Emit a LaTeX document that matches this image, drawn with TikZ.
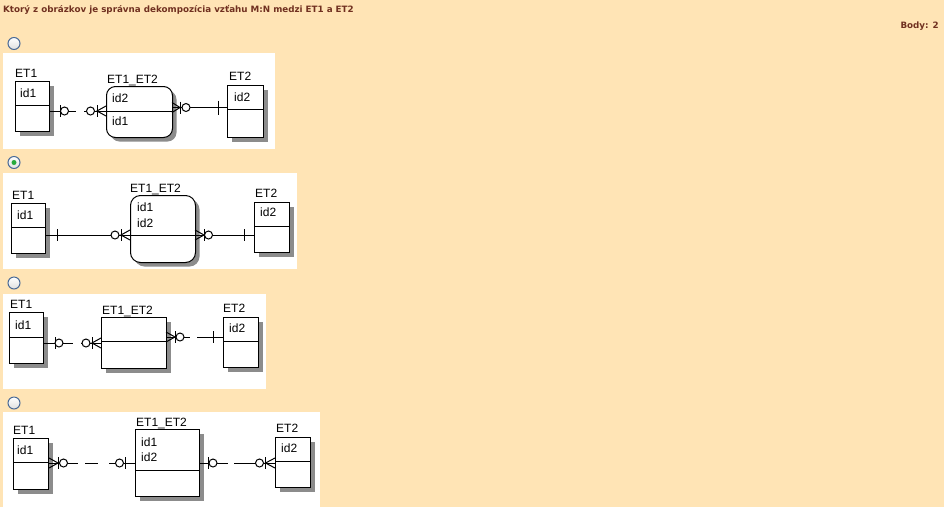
\documentclass[tikz,border=0pt]{standalone}
\usepackage{fontspec}
\setmainfont{Liberation Sans}
\newfontfamily\titlefont{DejaVu Sans}
\usetikzlibrary{shadows}
\definecolor{bgpeach}{RGB}{255,228,181}
\definecolor{titlebrown}{RGB}{112,48,32}
\definecolor{radioedge}{RGB}{74,106,150}
\definecolor{radiodot}{RGB}{40,170,60}
\definecolor{shadowgray}{RGB}{140,140,140}
\tikzset{
  ent/.style={draw=black, fill=white, line width=1pt, anchor=north west, inner sep=0pt,
     drop shadow={shadow xshift=4pt, shadow yshift=-4pt, fill=shadowgray, opacity=1}},
  lbl/.style={anchor=base west, inner sep=0pt, font=\fontsize{12}{14}\selectfont},
  conn/.style={line width=1pt},
  sym/.style={line width=1pt},
  radio/.style={circle, draw=radioedge, line width=1pt, top color=white, bottom color=gray!25, minimum size=12pt, inner sep=0pt},
  panel/.style={fill=white, draw=none},
  ttl/.style={inner sep=0pt, text=titlebrown, font=\titlefont\bfseries\fontsize{8.75}{10}\selectfont},
}
\newcommand\ERbar[3]{\draw[sym] (#1,#2-#3) -- (#1,#2+#3);}
\newcommand\ERcirc[2]{\draw[sym, fill=white] (#1,#2) circle[radius=4];}
\newcommand\ERcrow[3]{\draw[sym] (#2,#3-5) -- (#1,#3) -- (#2,#3+5);}
\begin{document}
\begin{tikzpicture}[x=1pt,y=-1pt]
\useasboundingbox (0,0) rectangle (944,507);
\fill[bgpeach] (0,0) rectangle (944,507);
% header
\node[ttl, anchor=base west] (title) at (3,12) {Ktorý z obrázkov je správna dekompozícia vzťahu M:N medzi ET1 a ET2};
\node[ttl, anchor=base east] (body) at (939,28.3) {Body: 2};
% radios
\node[radio] (r1) at (14,43.5) {};
\node[radio] (r2) at (14,162.5) {};
\fill[radiodot] (r2.center) circle[radius=2.5];
\node[radio] (r3) at (14,283) {};
\node[radio] (r4) at (14,403) {};
% panels
\fill[panel] (3,53) rectangle (275,149);
\fill[panel] (3,173) rectangle (297,269);
\fill[panel] (3,294) rectangle (266,389);
\fill[panel] (3,412) rectangle (320,507);

% ---------- diagram 1 ----------
\node[ent, minimum width=34pt, minimum height=50pt] (A1) at (15,81) {};
\node[ent, rounded corners=9pt, minimum width=66pt, minimum height=51pt] (B1) at (106,86) {};
\node[ent, minimum width=36pt, minimum height=52pt] (C1) at (227,85) {};
\coordinate (a1d) at (0,105.5);
\coordinate (b1d) at (0,111);
\coordinate (c1d) at (0,109);
\coordinate (k1r) at (0,107.5);
\draw[conn] (A1.west |- a1d) -- (A1.east |- a1d);
\draw[conn] (B1.west |- b1d) -- (B1.east |- b1d);
\draw[conn] (C1.west |- c1d) -- (C1.east |- c1d);
\draw[conn, dash pattern=on 26pt off 8pt on 80pt] (A1.east |- b1d) -- (B1.west |- b1d);
\draw[conn] (B1.east |- k1r) -- (C1.west |- k1r);
\ERbar{60}{111}{6}\ERcirc{64.5}{111}
\ERcirc{90.5}{111}\ERbar{97}{111}{6}\ERcrow{97}{106}{111}
\ERcrow{180}{172}{107.5}\ERbar{180}{107.5}{6}\ERcirc{186}{107.5}
\ERbar{218}{107.5}{7}
\node[lbl] (A1t) at (15,77.5) {ET1};
\node[lbl] (A1a) at (20,97.3) {id1};
\node[lbl] (B1t) at (107,83.5) {ET1\_ET2};
\node[lbl] (B1a) at (112,102.3) {id2};
\node[lbl] (B1b) at (112,125.5) {id1};
\node[lbl] (C1t) at (229,80.5) {ET2};
\node[lbl] (C1a) at (234,101) {id2};

% ---------- diagram 2 ----------
\node[ent, minimum width=34pt, minimum height=50pt] (A2) at (11,203) {};
\node[ent, rounded corners=10pt, minimum width=65pt, minimum height=67pt] (B2) at (130,195) {};
\node[ent, minimum width=35pt, minimum height=50pt] (C2) at (254,202) {};
\coordinate (a2d) at (0,227);
\coordinate (b2d) at (0,235);
\coordinate (c2d) at (0,226);
\draw[conn] (A2.west |- a2d) -- (A2.east |- a2d);
\draw[conn] (C2.west |- c2d) -- (C2.east |- c2d);
\draw[conn] (A2.east |- b2d) -- (C2.west |- b2d);
\ERbar{57}{235}{6}
\ERcirc{115}{235}\ERbar{121}{235}{6}\ERcrow{121}{130}{235}
\ERcrow{204}{195}{235}\ERbar{204}{235}{6}\ERcirc{208.5}{235}
\ERbar{244}{235}{6}
\node[lbl] (A2t) at (12,199) {ET1};
\node[lbl] (A2a) at (17,219) {id1};
\node[lbl] (B2t) at (130,192.5) {ET1\_ET2};
\node[lbl] (B2a) at (137,211.5) {id1};
\node[lbl] (B2b) at (137,227) {id2};
\node[lbl] (C2t) at (255,197) {ET2};
\node[lbl] (C2a) at (260,216.7) {id2};

% ---------- diagram 3 ----------
\node[ent, minimum width=34pt, minimum height=51pt] (A3) at (9,312) {};
\node[ent, minimum width=65pt, minimum height=51pt] (B3) at (101,317) {};
\node[ent, minimum width=35pt, minimum height=50pt] (C3) at (223,317) {};
\coordinate (a3d) at (0,337);
\coordinate (b3d) at (0,341);
\coordinate (c3d) at (0,341);
\coordinate (k3l) at (0,343);
\coordinate (k3r) at (0,337);
\draw[conn] (A3.west |- a3d) -- (A3.east |- a3d);
\draw[conn] (B3.west |- b3d) -- (B3.east |- b3d);
\draw[conn] (C3.west |- c3d) -- (C3.east |- c3d);
\draw[conn, dash pattern=on 29pt off 8pt on 60pt] (A3.east |- k3l) -- (B3.west |- k3l);
\draw[conn, dash pattern=on 23pt off 7pt on 60pt] (B3.east |- k3r) -- (C3.west |- k3r);
\ERbar{55}{343}{6}\ERcirc{59}{343}
\ERcirc{86}{343}\ERbar{92}{343}{6}\ERcrow{92}{101}{343}
\ERcrow{175}{166}{337}\ERbar{175}{337}{6}\ERcirc{180}{337}
\ERbar{213}{337}{6}
\node[lbl] (A3t) at (10,308.3) {ET1};
\node[lbl] (A3a) at (15,329) {id1};
\node[lbl] (B3t) at (102,314.5) {ET1\_ET2};
\node[lbl] (C3t) at (223,312.7) {ET2};
\node[lbl] (C3a) at (229,332.7) {id2};

% ---------- diagram 4 ----------
\node[ent, minimum width=35pt, minimum height=51pt] (A4) at (13,438) {};
\node[ent, minimum width=64pt, minimum height=67pt] (B4) at (135,429) {};
\node[ent, minimum width=35pt, minimum height=50pt] (C4) at (275,437) {};
\coordinate (a4d) at (0,462);
\coordinate (b4d) at (0,470);
\coordinate (c4d) at (0,461);
\coordinate (k4) at (0,463);
\draw[conn] (A4.west |- a4d) -- (A4.east |- a4d);
\draw[conn] (B4.west |- b4d) -- (B4.east |- b4d);
\draw[conn] (C4.west |- c4d) -- (C4.east |- c4d);
\draw[conn, dash pattern=on 29pt off 7pt on 13pt off 11pt on 60pt] (A4.east |- k4) -- (B4.west |- k4);
\draw[conn, dash pattern=on 28pt off 6pt on 60pt] (B4.east |- k4) -- (C4.west |- k4);
\ERcrow{58}{49}{463}\ERbar{58}{463}{6}\ERcirc{63.5}{463}
\ERcirc{119.5}{463}\ERbar{125}{463}{6}
\ERbar{208}{463}{6}\ERcirc{213}{463}
\ERcirc{259.5}{463}\ERbar{265.5}{463}{6}\ERcrow{265.5}{275}{463}
\node[lbl] (A4t) at (13,434.3) {ET1};
\node[lbl] (A4a) at (17,454.3) {id1};
\node[lbl] (B4t) at (136,426.5) {ET1\_ET2};
\node[lbl] (B4a) at (141,446.5) {id1};
\node[lbl] (B4b) at (141,461.5) {id2};
\node[lbl] (C4t) at (276,432.3) {ET2};
\node[lbl] (C4a) at (281,452.3) {id2};
\end{tikzpicture}
\end{document}
